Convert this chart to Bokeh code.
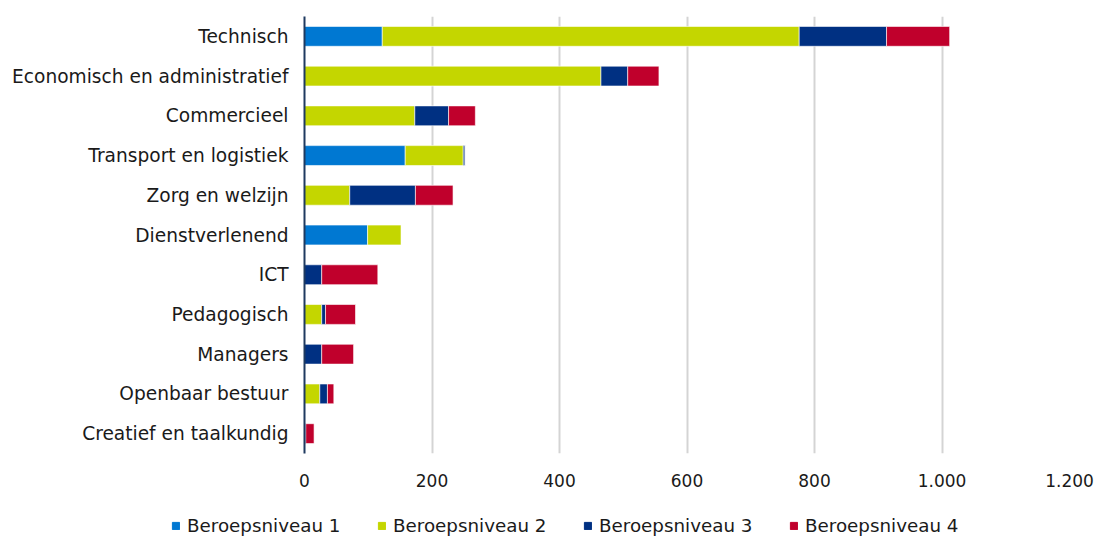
from bokeh.plotting import figure
from bokeh.layouts import column
from bokeh.models import (ColumnDataSource, FactorRange, Range1d, FixedTicker,
                          CustomJSTickFormatter, Legend, LegendItem)
from bokeh.embed import file_html
from bokeh.resources import INLINE

# Vacancies per occupational class, split by occupational level
categories = ["Technisch", "Economisch en administratief", "Commercieel",
              "Transport en logistiek", "Zorg en welzijn", "Dienstverlenend",
              "ICT", "Pedagogisch", "Managers", "Openbaar bestuur",
              "Creatief en taalkundig"]
niveau1 = [122, 0, 0, 158, 0, 99, 0, 0, 0, 0, 0]
niveau2 = [654, 465, 173, 91, 71, 53, 0, 27, 0, 24, 0]
niveau3 = [137, 42, 53, 3, 103, 0, 27, 6, 27, 12, 2]
niveau4 = [99, 49, 42, 0, 59, 0, 88, 47, 50, 10, 13]

series = ["Beroepsniveau 1", "Beroepsniveau 2", "Beroepsniveau 3", "Beroepsniveau 4"]
colors = ["#0078d2", "#c4d600", "#003082", "#c0002c"]
x_ticks = [0, 200, 400, 600, 800, 1000, 1200]

FONT = "DejaVu Sans"
TEXT = "#1a1a1a"
fields = ["n1", "n2", "n3", "n4"]

source = ColumnDataSource(dict(cat=categories, n1=niveau1, n2=niveau2,
                               n3=niveau3, n4=niveau4))

chart = figure(width=1098, height=500, output_backend="svg", toolbar_location=None,
               y_range=FactorRange(factors=categories[::-1]),
               x_range=Range1d(0, 1200),
               min_border_left=304, min_border_right=29,
               min_border_top=16, min_border_bottom=47)
chart.frame_align = False
chart.outline_line_color = None
chart.background_fill_color = "white"
chart.border_fill_color = "white"

chart.hbar_stack(fields, y="cat", height=0.5,
                 color=colors, line_color="white", line_width=1,
                 line_alpha=0.6, source=source)

# Grid
chart.ygrid.grid_line_color = None
chart.xgrid.grid_line_color = "#d4d4d4"
chart.xgrid.grid_line_width = 2
chart.xgrid.ticker = FixedTicker(ticks=x_ticks)

# X axis: labels only, Dutch thousands separator
chart.xaxis.ticker = FixedTicker(ticks=x_ticks)
chart.xaxis.formatter = CustomJSTickFormatter(code="""
    if (tick >= 1000) {
        return Math.floor(tick / 1000) + '.' + String(tick % 1000).padStart(3, '0');
    }
    return String(tick);
""")
chart.xaxis.axis_line_color = None
chart.xaxis.major_tick_line_color = None
chart.xaxis.minor_tick_line_color = None
chart.xaxis.major_tick_out = 0
chart.xaxis.major_label_standoff = 20
chart.xaxis.major_label_text_font = FONT
chart.xaxis.major_label_text_font_size = "17px"
chart.xaxis.major_label_text_color = TEXT

# Y axis: dark baseline, category labels
chart.yaxis.axis_line_color = "#1f3a60"
chart.yaxis.axis_line_width = 2
chart.yaxis.major_tick_line_color = None
chart.yaxis.major_tick_out = 0
chart.yaxis.major_label_standoff = 16
chart.yaxis.major_label_text_font = FONT
chart.yaxis.major_label_text_font_size = "18.6px"
chart.yaxis.major_label_text_color = TEXT

# Legend strip underneath the chart; its key glyphs share the chart's source
# (categorical y on a numeric range, so they only appear as legend swatches)
strip = figure(width=1098, height=36, output_backend="svg", toolbar_location=None,
               x_range=Range1d(0, 1), y_range=Range1d(0, 1),
               min_border=0, outline_line_color=None)
strip.frame_align = False
strip.axis.visible = False
strip.grid.visible = False
keys = [strip.hbar(y="cat", right=f, height=0.5, source=source,
                   fill_color=c, line_color=c)
        for f, c in zip(fields, colors)]

legend = Legend(items=[LegendItem(label=s, renderers=[r]) for s, r in zip(series, keys)],
                orientation="horizontal", location=(171, 0),
                glyph_width=9, glyph_height=9, label_standoff=7,
                label_width=190, spacing=0, padding=0, margin=0,
                border_line_color=None, background_fill_alpha=0,
                label_text_font=FONT, label_text_font_size="18.3px",
                label_text_color=TEXT)
strip.add_layout(legend, "center")

p = column(chart, strip, spacing=0)

open("out.html", "w").write(file_html(p, INLINE))
